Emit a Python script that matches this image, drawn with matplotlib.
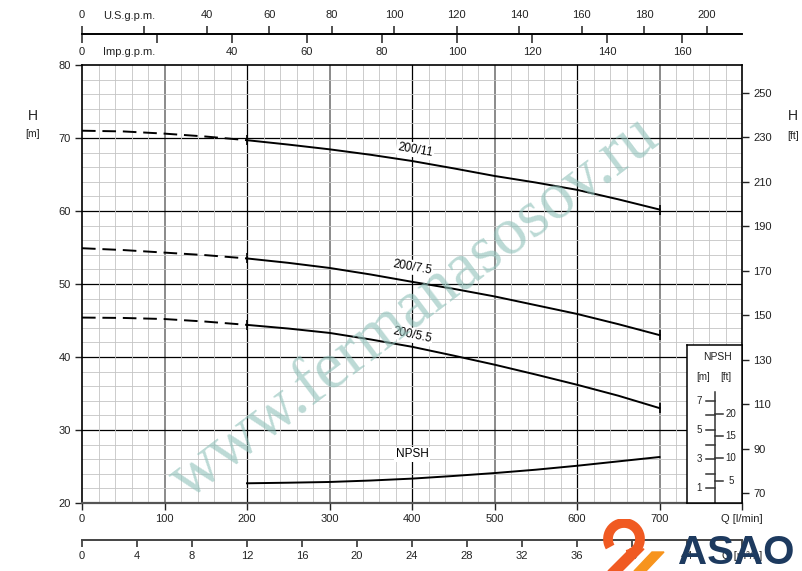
import numpy as np
import matplotlib.pyplot as plt
from matplotlib.patches import Polygon, Arc

plt.rcParams['font.family'] = ['Liberation Sans', 'DejaVu Sans']

# расход Q [l/min] и напор H [m]
flow = [0, 50, 100, 150, 200, 250, 300, 350, 400, 450, 500, 550, 600, 650, 700]
h_200_11 = [71.0, 70.9, 70.6, 70.2, 69.7, 69.1, 68.45, 67.7, 66.85, 65.85, 64.8, 63.9, 62.9, 61.6, 60.2]
h_200_75 = [54.9, 54.65, 54.3, 53.95, 53.5, 52.9, 52.2, 51.3, 50.3, 49.35, 48.3, 47.1, 45.9, 44.5, 43.0]
h_200_55 = [45.4, 45.35, 45.2, 44.85, 44.4, 43.9, 43.3, 42.4, 41.4, 40.2, 38.95, 37.6, 36.2, 34.7, 33.0]
curve_names = ["200/11", "200/7.5", "200/5.5"]

npsh_flow = [200, 250, 300, 350, 400, 450, 500, 550, 600, 650, 700]
npsh_m = [1.35, 1.39, 1.44, 1.54, 1.67, 1.85, 2.05, 2.28, 2.55, 2.85, 3.15]

q_ticks = [0, 100, 200, 300, 400, 500, 600, 700]
h_ticks_m = [20, 30, 40, 50, 60, 70, 80]
h_ticks_ft = [70, 90, 110, 130, 150, 170, 190, 210, 230, 250]
usgpm_ticks = [0, 20, 40, 60, 80, 100, 120, 140, 160, 180, 200]
impgpm_ticks = [0, 20, 40, 60, 80, 100, 120, 140, 160]
m3h_ticks = [0, 4, 8, 12, 16, 20, 24, 28, 32, 36, 40, 44]
npsh_m_ticks = [1, 2, 3, 4, 5, 6, 7]
npsh_ft_ticks = [5, 10, 15, 20]

LPM_TO_USGPM = 0.264172
LPM_TO_IMPGPM = 0.219969
LPM_TO_M3H = 0.06
M_TO_FT = 3.28084
Q_MAX = 800

W, H = 802, 571
def fx(px):
    return px / W
def fy(py):
    return 1 - py / H

fig = plt.figure(figsize=(W / 100, H / 100), dpi=100)
fig.patch.set_facecolor("white")

# ---- основное поле
ax = fig.add_axes([fx(82), fy(503), (742 - 82) / W, (503 - 65) / H])
ax.set_xlim(0, Q_MAX)
ax.set_ylim(20, 80)

ax.set_xticks(np.arange(0, Q_MAX + 1, 20), minor=True)
ax.set_yticks(np.arange(20, 81, 2), minor=True)
ax.grid(which="minor", color="#c4c4c4", lw=0.6)
ax.tick_params(which="minor", length=0)
for q in q_ticks[1:]:
    if q % 200 == 100:
        ax.axvline(q, color="#8a8a8a", lw=1.4, zorder=1)
    else:
        ax.axvline(q, color="black", lw=0.9, zorder=1)
for h in h_ticks_m[1:-1]:
    ax.axhline(h, color="black", lw=0.9, zorder=1)

ax.set_xticks(q_ticks + [Q_MAX])
ax.set_xticklabels([str(q) for q in q_ticks] + ["Q [l/min]"])
ax.set_yticks(h_ticks_m)
ax.tick_params(which="major", length=5, width=1, labelsize=8, colors="#222222", pad=3)
for s in ax.spines.values():
    s.set_linewidth(1.2)
ax.spines["bottom"].set_color("#555555")
ax.spines["bottom"].set_linewidth(1.6)

# кривые: до 200 штрихом, дальше сплошной
flow_arr = np.array(flow)
for hv in [h_200_11, h_200_75, h_200_55]:
    hv = np.array(hv)
    d = flow_arr <= 200
    s = flow_arr >= 200
    ax.plot(flow_arr[d], hv[d], color="black", lw=1.4, ls=(0, (7, 3.5)), zorder=3)
    ax.plot(flow_arr[s], hv[s], color="black", lw=1.4, zorder=3)
    ax.plot([flow_arr[s][0], flow_arr[s][-1]], [hv[s][0], hv[s][-1]], ls="none",
            marker="|", ms=7, mew=1.2, color="black", zorder=3)

ax.plot(npsh_flow, 20 + 2 * np.array(npsh_m), color="black", lw=1.4, zorder=3)

lbl = dict(fontsize=8.5, ha="center", va="center", zorder=4,
           bbox=dict(facecolor="white", edgecolor="none", pad=1))
ax.text(404, 68.35, curve_names[0], rotation=-10, **lbl)
ax.text(400, 52.3, curve_names[1], rotation=-10, **lbl)
ax.text(400, 43.0, curve_names[2], rotation=-12, **lbl)
ax.text(400, 26.7, "NPSH", **lbl)

# ---- футы справа
ax_r = ax.twinx()
ax_r.set_ylim(20 * M_TO_FT, 80 * M_TO_FT)
ax_r.set_yticks(h_ticks_ft)
ax_r.tick_params(length=5, width=1, labelsize=8, colors="#222222", pad=3)
for s in ax_r.spines.values():
    s.set_visible(False)

fig.text(fx(33), fy(116), "H", fontsize=10, ha="center", va="center", color="#222222")
fig.text(fx(33), fy(134), "[m]", fontsize=7.5, ha="center", va="center", color="#222222")
fig.text(fx(793), fy(116), "H", fontsize=10, ha="center", va="center", color="#222222")
fig.text(fx(793), fy(136), "[ft]", fontsize=7.5, ha="center", va="center", color="#222222")

# ---- шкалы галлонов сверху
ax_us = fig.add_axes([fx(82), fy(34), 660 / W, 1e-5])
ax_us.set_xlim(0, Q_MAX * LPM_TO_USGPM)
ax_us.set_xticks(usgpm_ticks)
ax_us.set_xticklabels(["" if t == 20 else str(t) for t in usgpm_ticks])
ax_us.xaxis.set_ticks_position("top")
ax_us.xaxis.set_label_position("top")
ax_us.tick_params(length=6, width=1.1, labelsize=8, pad=4, colors="#222222")
ax_us.set_yticks([])
for k in ["bottom", "left", "right"]:
    ax_us.spines[k].set_visible(False)
ax_us.spines["top"].set_linewidth(1.2)

ax_imp = fig.add_axes([fx(82), fy(34), 660 / W, 1e-5])
ax_imp.patch.set_alpha(0)
ax_imp.set_xlim(0, Q_MAX * LPM_TO_IMPGPM)
ax_imp.set_xticks(impgpm_ticks)
ax_imp.set_xticklabels(["" if t == 20 else str(t) for t in impgpm_ticks])
ax_imp.tick_params(length=6.5, width=1.1, labelsize=8, pad=3, colors="#222222")
ax_imp.set_yticks([])
for k in ["top", "left", "right"]:
    ax_imp.spines[k].set_visible(False)
ax_imp.spines["bottom"].set_linewidth(1.2)

fig.text(fx(103), fy(16), "U.S.g.p.m.", fontsize=8, ha="left", va="center", color="#222222")
fig.text(fx(103), fy(52), "Imp.g.p.m.", fontsize=8, ha="left", va="center", color="#222222")

# ---- шкала м3/ч снизу
ax_m3 = fig.add_axes([fx(82), fy(540), 660 / W, 1e-5])
ax_m3.set_xlim(0, Q_MAX * LPM_TO_M3H)
ax_m3.set_xticks(m3h_ticks + [48])
ax_m3.set_xticklabels([str(t) for t in m3h_ticks] + ["Q [m³/h]"])
ax_m3.tick_params(length=5, width=1.1, labelsize=8, pad=3, colors="#222222")
ax_m3.set_yticks([])
for k in ["top", "left", "right"]:
    ax_m3.spines[k].set_visible(False)
ax_m3.spines["bottom"].set_linewidth(1.4)
ax_m3.spines["bottom"].set_color("#444444")

# ---- вставка NPSH
ax_in = fig.add_axes([fx(687), fy(503), (742 - 687) / W, (503 - 345) / H], zorder=5)
ax_in.set_xlim(0, 1)
ax_in.set_ylim(0, (503 - 345) / (438 / 60) / 2)
ax_in.set_xticks([])
ax_in.set_yticks([])
for s in ax_in.spines.values():
    s.set_linewidth(1.1)
xc = 0.504
ax_in.plot([xc, xc], [0, 7.6], color="#333333", lw=1.1)
for m in npsh_m_ticks:
    ax_in.plot([0.345, xc], [m, m], color="#333333", lw=1.1)
    if m % 2 == 1:
        ax_in.text(0.22, m, str(m), fontsize=7, ha="center", va="center", color="#222222")
for f in npsh_ft_ticks:
    ax_in.plot([xc, 0.655], [f / M_TO_FT, f / M_TO_FT], color="#333333", lw=1.1)
    ax_in.text(0.8, f / M_TO_FT, str(f), fontsize=7, ha="center", va="center", color="#222222")
ax_in.text(0.55, 10.0, "NPSH", fontsize=7.5, ha="center", va="center", color="#222222")
ax_in.text(0.29, 8.63, "[m]", fontsize=7, ha="center", va="center", color="#222222")
ax_in.text(0.71, 8.63, "[ft]", fontsize=7, ha="center", va="center", color="#222222")

# ---- водяной знак
fig.text(fx(415), fy(308), "www.fermanasosov.ru", fontsize=48, family="Liberation Serif",
         color="#8fc1ba", alpha=0.6, rotation=37, ha="center", va="center",
         rotation_mode="anchor", zorder=10)

# ---- логотип
fig.text(fx(736), fy(553), "ASAO", fontsize=29, weight="bold", color="#1d3a5f",
         ha="center", va="center", zorder=11)
lg = fig.add_axes([fx(600), fy(571), 70 / W, 52 / H], zorder=11)
lg.set_xlim(0, 70)
lg.set_ylim(52, 0)
lg.axis("off")
lg.add_patch(Arc((24, 20), 32, 32, theta1=-210, theta2=80, color="#f05a22", lw=7))
lg.add_patch(Polygon([[8, 52], [30, 30], [44, 30], [22, 52]], color="#f05a22"))
lg.add_patch(Polygon([[34, 52], [52, 33], [64, 33], [46, 52]], color="#f7941d"))

fig.savefig("out.png", dpi=100)
